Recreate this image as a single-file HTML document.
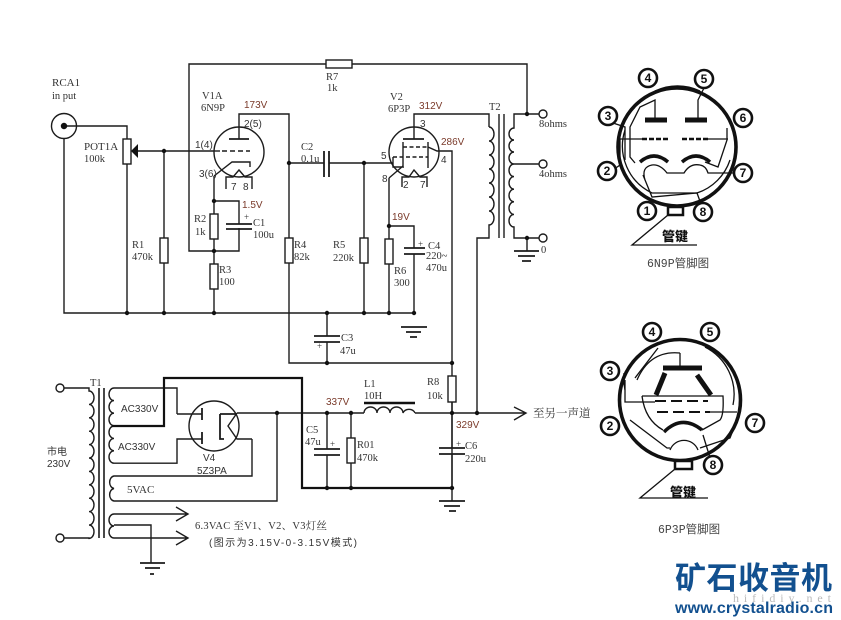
<!DOCTYPE html>
<html><head><meta charset="utf-8"><style>
html,body{margin:0;padding:0;background:#fff}
svg{display:block}
.w{fill:none;stroke:#1c1c1c;stroke-width:1.4}
.t{fill:none;stroke:#111;stroke-width:2.2}
.b{fill:#fff;stroke:#1c1c1c;stroke-width:1.4}
.s{font-family:"Liberation Serif","Noto Serif CJK SC",serif;font-size:10.5px;fill:#333}
.a{font-family:"Liberation Sans","Noto Sans CJK SC",sans-serif;font-size:10px;fill:#333}
.r{font-family:"Liberation Sans",sans-serif;font-size:10px;fill:#7a3a2a}
.p{fill:#fff;stroke:#111;stroke-width:2.6}
.n{font-family:"Liberation Sans",sans-serif;font-size:12px;font-weight:bold;text-anchor:middle;fill:#111}
.k{fill:none;stroke:#111;stroke-width:1.3}
.h{fill:none;stroke:#111;stroke-width:3.5}
</style></head><body>
<svg width="841" height="620" viewBox="0 0 841 620" xmlns="http://www.w3.org/2000/svg">
<rect width="841" height="620" fill="#fff"/>
<g class="w">
<path d="M239 224V201H214M239 228V251H189V64H527V114"/>
<circle cx="64" cy="126" r="12.5"/>
<path d="M64 126H127V139M127 164V313M64 138V313H414"/>
<path d="M137 151H214"/>
<path d="M164 151V313"/>
<circle cx="239" cy="152" r="25"/>
<path d="M239 139V114H289V363H452"/>
<path d="M229 139H249" stroke-width="1.8"/>
<path d="M214 151H220"/>
<path d="M222 151H250" stroke-dasharray="5 3"/>
<path d="M214 176L232 162H250V167M214 176V313"/>
<path d="M226 189V177H233L239 170L245 177H252V189"/>
<path d="M289 163H324M329 163H393"/>
<path d="M364 163V313M389 178V313M389 226H414V248M414 254V313"/>
<circle cx="414" cy="152" r="25"/>
<path d="M414 139V114H489V127"/>
<path d="M403 139H424" stroke-width="1.8"/>
<path d="M403 142V166M428 142V168"/>
<path d="M403 147H428" stroke-dasharray="4 2.5"/>
<path d="M428 147L437 151H452V376M452 402V488"/>
<path d="M393 157H428" stroke-dasharray="4 2.5"/>
<path d="M393 157V167H404M389 178L403 166"/>
<path d="M402 187V177H409L414 170L420 177H427V187"/>
<path d="M327 313V336M327 342V363"/>
<path d="M489 127a5 7 0 0 1 0 14a5 7 0 0 1 0 14a5 7 0 0 1 0 14a5 7 0 0 1 0 14a5 7 0 0 1 0 14a5 7 0 0 1 0 14a5 7 0 0 1 0 14V238H477V413"/>
<path d="M499 114V238M504 114V238"/>
<path d="M539 114H514V128a5 6 0 0 0 0 12a5 6 0 0 0 0 12a5 6 0 0 0 0 12a5 6.3 0 0 0 0 12.6a5 6.3 0 0 0 0 12.6a5 6.3 0 0 0 0 12.6a5 6.3 0 0 0 0 12.6a5 6.3 0 0 0 0 12.6V238H539"/>
<path d="M514 164H539M527 238V251"/>
<path d="M237 413H364M415 413H526M514 407L526 413L514 420"/>
<path d="M327 413V449M327 455V488M351 413V488M452 402V448M452 454V501"/>
<circle cx="60" cy="388" r="4"/><circle cx="60" cy="538" r="4"/>
<path d="M64 388H89V391a5 6.7 0 0 1 0 13.4a5 6.7 0 0 1 0 13.4a5 6.7 0 0 1 0 13.4a5 6.7 0 0 1 0 13.4a5 6.7 0 0 1 0 13.4a5 6.7 0 0 1 0 13.4a5 6.7 0 0 1 0 13.4a5 6.7 0 0 1 0 13.4a5 6.7 0 0 1 0 13.4a5 6.7 0 0 1 0 13.4a5 6.7 0 0 1 0 13.4V538H64"/>
<path d="M99 388V538M104 388V538" stroke-width="1.6"/>
<path d="M177 414V388H114a5 6.3 0 0 0 0 12.6a5 6.3 0 0 0 0 12.6a5 6.3 0 0 0 0 12.6"/>
<path d="M114 426a5 6.2 0 0 0 0 12.4a5 6.2 0 0 0 0 12.4a5 6.2 0 0 0 0 12.4H177V439H202M177 414H202"/>
<path d="M252 439H237L228 426L237 413M252 439V476H114a5 6.3 0 0 0 0 12.5a5 6.3 0 0 0 0 12.5H277V413"/>
<path d="M188 514H114a5 6 0 0 0 0 12a5 6 0 0 0 0 12H188M176 507L188 514L176 521M176 531L188 538L176 545"/>
<path d="M114 525H151V563"/>
<circle cx="214" cy="426" r="25"/>
<path d="M202 408V420M202 432V444" stroke-width="1.8"/>
<path d="M220 414V439H224M220 414H237" stroke-width="1.8"/>
<path d="M364 413a6.5 6 0 0 1 13 0a6.5 6 0 0 1 13 0a6.5 6 0 0 1 13 0a6.5 6 0 0 1 12 0"/>
</g>
<path d="M364 403H415" stroke="#111" stroke-width="2.4" fill="none"/>
<path d="M112 426H164V378H302V488H452" class="t"/>
<g stroke="#1c1c1c" stroke-width="1.8" fill="none">
<path d="M226 224H252M226 229H252"/>
<path d="M324 151V177M329 151V177"/>
<path d="M404 248H425M404 254H425"/>
<path d="M314 336H340M314 342H340"/>
<path d="M314 449H340M314 455H340"/>
<path d="M439 448H465M439 454H465"/>
<path d="M514 251H539M518 256H535M522 261H531"/>
<path d="M401 327H427M406 332H421M410 337H417"/>
<path d="M439 501H465M444 506H460M449 511H456"/>
<path d="M140 563H165M145 568H160M150 574H154"/>
</g>
<g class="b">
<rect x="326" y="60" width="26" height="8"/>
<rect x="123" y="139" width="8" height="25"/>
<rect x="160" y="238" width="8" height="25"/>
<rect x="210" y="214" width="8" height="25"/>
<rect x="210" y="264" width="8" height="25"/>
<rect x="285" y="238" width="8" height="25"/>
<rect x="360" y="238" width="8" height="25"/>
<rect x="385" y="239" width="8" height="25"/>
<rect x="448" y="376" width="8" height="26"/>
<rect x="347" y="438" width="8" height="25"/>
<circle cx="543" cy="114" r="4"/><circle cx="543" cy="164" r="4"/><circle cx="543" cy="238" r="4"/>
</g>
<g fill="#111">
<circle cx="64" cy="126" r="3.2"/>
<path d="M131 151L138 144V158Z"/>
<circle cx="127" cy="313" r="2.2"/><circle cx="164" cy="313" r="2.2"/><circle cx="214" cy="313" r="2.2"/><circle cx="327" cy="313" r="2.2"/><circle cx="364" cy="313" r="2.2"/><circle cx="389" cy="313" r="2.2"/><circle cx="414" cy="313" r="2.2"/>
<circle cx="164" cy="151" r="2.2"/><circle cx="289" cy="163" r="2.2"/><circle cx="364" cy="163" r="2.2"/>
<circle cx="214" cy="201" r="2.2"/><circle cx="214" cy="251" r="2.2"/><circle cx="389" cy="226" r="2.2"/>
<circle cx="327" cy="363" r="2.2"/><circle cx="452" cy="363" r="2.2"/>
<circle cx="527" cy="114" r="2.2"/><circle cx="527" cy="238" r="2.2"/>
<circle cx="277" cy="413" r="2.2"/><circle cx="327" cy="413" r="2.2"/><circle cx="351" cy="413" r="2.2"/><circle cx="452" cy="413" r="2.2"/><circle cx="477" cy="413" r="2.2"/>
<circle cx="327" cy="488" r="2.2"/><circle cx="351" cy="488" r="2.2"/><circle cx="452" cy="488" r="2.2"/>
</g>
<g class="s">
<text x="52" y="86" font-size="11">RCA1</text><text x="52" y="99">in put</text>
<text x="84" y="150" font-size="11">POT1A</text><text x="84" y="162">100k</text>
<text x="132" y="248">R1</text><text x="132" y="260">470k</text>
<text x="202" y="99">V1A</text><text x="201" y="111">6N9P</text>
<text x="194" y="222">R2</text><text x="195" y="235">1k</text>
<text x="253" y="226">C1</text><text x="253" y="238">100u</text><text x="244" y="220" font-size="9">+</text>
<text x="219" y="273">R3</text><text x="219" y="285">100</text>
<text x="294" y="248">R4</text><text x="294" y="260">82k</text>
<text x="301" y="150">C2</text><text x="301" y="162">0.1u</text>
<text x="326" y="80">R7</text><text x="327" y="91">1k</text>
<text x="390" y="100">V2</text><text x="388" y="112">6P3P</text>
<text x="489" y="110">T2</text>
<text x="333" y="248">R5</text><text x="333" y="261">220k</text>
<text x="428" y="249">C4</text><text x="418" y="247" font-size="9">+</text><text x="426" y="259">220~</text><text x="426" y="271">470u</text>
<text x="394" y="274">R6</text><text x="394" y="286">300</text>
<text x="341" y="341">C3</text><text x="340" y="354">47u</text><text x="317" y="349" font-size="9">+</text>
<text x="539" y="127">8ohms</text><text x="539" y="177">4ohms</text><text x="541" y="253">0</text>
<text x="90" y="386">T1</text>
<text x="127" y="493" font-size="11">5VAC</text>
<text x="195" y="529" textLength="132">6.3VAC 至V1、V2、V3灯丝</text>
<text x="306" y="433">C5</text><text x="305" y="445">47u</text><text x="330" y="447" font-size="9">+</text>
<text x="364" y="387">L1</text><text x="364" y="399">10H</text>
<text x="427" y="385">R8</text><text x="427" y="399">10k</text>
<text x="357" y="448">R01</text><text x="357" y="461">470k</text>
<text x="465" y="449">C6</text><text x="465" y="462">220u</text><text x="456" y="447" font-size="9">+</text>
<text x="533" y="417" font-size="11.5">至另一声道</text>
</g>
<g class="a">
<text x="244" y="127">2(5)</text><text x="195" y="148">1(4)</text><text x="199" y="177">3(6)</text>
<text x="231" y="190">7</text><text x="243" y="190">8</text>
<text x="420" y="127">3</text><text x="381" y="159">5</text><text x="441" y="163">4</text><text x="382" y="182">8</text><text x="403" y="188">2</text><text x="420" y="188">7</text>
<text x="47" y="455" font-family="Noto Sans CJK SC">市电</text><text x="47" y="467">230V</text>
<text x="121" y="412">AC330V</text><text x="118" y="450">AC330V</text>
<text x="203" y="461">V4</text><text x="197" y="474">5Z3PA</text>
<text x="209" y="546" textLength="148">(图示为3.15V-0-3.15V模式)</text>
</g>
<g class="r">
<text x="244" y="108">173V</text><text x="242" y="208">1.5V</text>
<text x="419" y="109">312V</text><text x="441" y="145">286V</text><text x="392" y="220">19V</text>
<text x="326" y="405">337V</text><text x="456" y="428">329V</text>
</g>
<g>
<circle cx="677" cy="147" r="59" fill="none" stroke="#111" stroke-width="3.6"/>
<path d="M655 91A52 52 0 0 1 700 91M625 130A52 52 0 0 0 652 193L697 193A52 52 0 0 0 730 160" class="k"/>
<path d="M645 120H667M685 120H707" stroke="#111" stroke-width="5" fill="none"/>
<path d="M655 120V100L640 107L630 127V157L635 163M698 120V100L704 88M613 123L625 127V160M642 139H620V165L610 172M728 139H708M727 128L727 140L718 167L705 162" class="k"/>
<path d="M642 139H669M682 139H708" stroke="#111" stroke-width="2.5" stroke-dasharray="5 2" fill="none"/>
<path d="M640 162Q654 150 668 162M682 162Q696 150 710 162" class="h"/>
<path d="M645 180Q641 167 652 165Q660 164 667 173H684Q690 163 700 165Q706 166 708 173H733M643 175L652 197L697 193L701 204" class="k"/>
<rect x="668" y="207" width="15" height="8" fill="#fff" stroke="#111" stroke-width="2.5"/>
<path d="M668 215L632 245H697" class="k" stroke-width="1.5"/>
<g class="p">
<circle cx="648" cy="78" r="9"/><circle cx="704" cy="79" r="9"/><circle cx="608" cy="116" r="9"/><circle cx="743" cy="118" r="9"/><circle cx="607" cy="171" r="9"/><circle cx="743" cy="173" r="9"/><circle cx="647" cy="211" r="9"/><circle cx="703" cy="212" r="9"/>
</g>
<g class="n">
<text x="648" y="82">4</text><text x="704" y="83">5</text><text x="608" y="120">3</text><text x="743" y="122">6</text><text x="607" y="175">2</text><text x="743" y="177">7</text><text x="647" y="215">1</text><text x="703" y="216">8</text>
</g>
<text x="662" y="241" font-family="Noto Sans CJK SC" font-size="13" font-weight="900" fill="#111">管键</text>
<text x="647" y="267" font-family="Liberation Mono,Noto Sans CJK SC" font-size="11.5" fill="#444">6N9P管脚图</text>
</g>
<g>
<circle cx="680" cy="400" r="60.5" fill="none" stroke="#111" stroke-width="3.6"/>
<path d="M658 348L635 378M624 373A57 57 0 0 0 625 390M705 347A53 53 0 0 1 733 405M630 420L667 448H670M737 420L730 438L700 448" class="k"/>
<path d="M670 450A15 15 0 0 1 698 450" class="k" fill="#fff"/>
<path d="M663 368H702" stroke="#111" stroke-width="5" fill="none"/>
<path d="M680 353V367M680 353Q650 350 637 380M625 380V402H655M642 396H723Q724 415 720 420L702 430M642 396Q645 420 663 430M710 412H737M703 435L711 461" class="k"/>
<path d="M665 373L656 395M697 375L711 395" stroke="#111" stroke-width="5" fill="none"/>
<path d="M655 401H708M657 412H710" stroke="#111" stroke-width="2" stroke-dasharray="11 5" fill="none"/>
<path d="M664 432Q682 414 702 430" class="h"/>
<rect x="675" y="461" width="17" height="8" fill="#fff" stroke="#111" stroke-width="2.5"/>
<path d="M675 469L640 498H708" class="k" stroke-width="1.5"/>
<g class="p">
<circle cx="652" cy="332" r="9"/><circle cx="710" cy="332" r="9"/><circle cx="610" cy="371" r="9"/><circle cx="610" cy="426" r="9"/><circle cx="755" cy="423" r="9"/><circle cx="713" cy="465" r="9"/>
</g>
<g class="n">
<text x="652" y="336">4</text><text x="710" y="336">5</text><text x="610" y="375">3</text><text x="610" y="430">2</text><text x="755" y="427">7</text><text x="713" y="469">8</text>
</g>
<text x="670" y="497" font-family="Noto Sans CJK SC" font-size="13" font-weight="900" fill="#111">管键</text>
<text x="658" y="533" font-family="Liberation Mono,Noto Sans CJK SC" font-size="11.5" fill="#444">6P3P管脚图</text>
</g>
<text x="675" y="589" font-family="Noto Sans CJK SC" font-size="31" font-weight="700" fill="#12508f" textLength="157" lengthAdjust="spacing">矿石收音机</text>
<text x="733" y="602" font-family="Liberation Serif" font-size="12" fill="#bbb" textLength="98" lengthAdjust="spacing">hifidiy.net</text>
<text x="675" y="613" font-family="Liberation Sans" font-size="16" font-weight="700" fill="#12508f" textLength="158" lengthAdjust="spacing">www.crystalradio.cn</text>
</svg>
</body></html>
